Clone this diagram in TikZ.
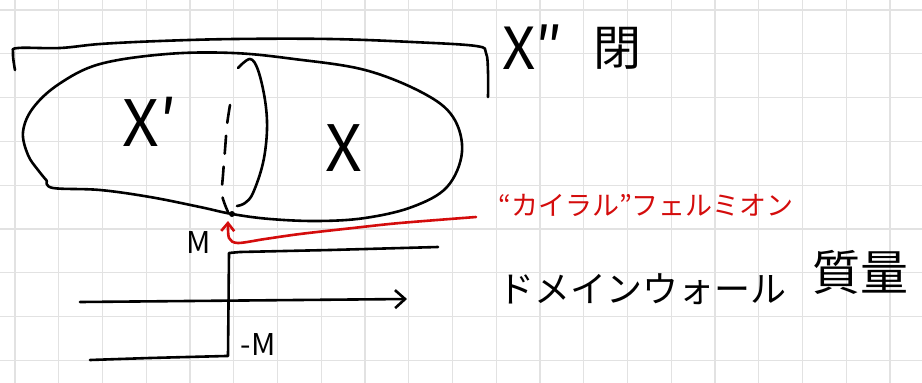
\documentclass[tikz,border=0pt]{standalone}
\usepackage{fontspec}
\newfontfamily\jp{Noto Sans CJK JP}
\usetikzlibrary{arrows.meta}
\definecolor{gridgray}{RGB}{226,226,226}
\definecolor{penred}{RGB}{212,12,12}
\begin{document}
\begin{tikzpicture}[x=1pt,y=-1pt]
    \tikzset{
        ink/.style={line width=2.6pt, line cap=round, line join=round},
        redink/.style={ink, draw=penred},
        sheet/.style={gridgray, line width=1.2pt},
        bigletter/.style={inner sep=0pt, font=\jp\fontsize{64}{64}\selectfont},
        midletter/.style={inner sep=0pt, font=\jp\fontsize{58}{58}\selectfont},
        smallletter/.style={inner sep=0pt, font=\jp\fontsize{30}{30}\selectfont},
        kanji/.style={inner sep=0pt, font=\jp\fontsize{48}{48}\selectfont},
        katakana/.style={inner sep=0pt, font=\jp\fontsize{36}{36}\selectfont},
        remark/.style={inner sep=0pt, text=penred, font=\jp\fontsize{27}{27}\selectfont}
    }
    \useasboundingbox (0,0) rectangle (922,383);
    \fill[white] (0,0) rectangle (922,383);
    \foreach \i in {0,...,20}{
        \draw[sheet] (15+43.75*\i,0) -- (15+43.75*\i,383);
    }
    \foreach \j in {0,...,8}{
        \draw[sheet] (0,10+43.8*\j) -- (922,10+43.8*\j);
    }

    % closed manifold X''
    \draw[ink] plot[smooth, tension=0.6] coordinates {(15,70) (13,53) (18,48) (60,48) (100,44) (160,41) (235,39) (330,39) (412,42) (476,46) (486,53) (488,72) (488,97)};

    % X' and X glued along the wall
    \draw[ink] plot[smooth, tension=0.6] coordinates {(47,181) (53,188) (100,190) (150,197) (200,207) (232,214) (270,219) (318,221) (365,218) (412,207) (447,187) (462,152) (453,117) (423,93) (365,70) (294,59) (233,53) (167,54) (100,64) (59,84) (33,108) (23,132) (28,155) (38,170) (47,181)};
    \draw[ink] plot[smooth, tension=0.6] coordinates {(238,68) (250,59) (258,70) (265,100) (267,130) (263,163) (253,193) (245,203) (237,206)};
    \draw[ink, dash pattern=on 18pt off 13pt] plot[smooth] coordinates {(230,105) (227,125) (225,150) (223,175) (222,195) (228,212)};
    \coordinate (wall) at (232,214);
    \fill (wall) circle (3pt);

    \draw node[bigletter] (xprime) at (150,122) {X′};
    \draw node[bigletter] (x) at (344,148) {X};
    \draw node[midletter] (xdprime) at (533,47) {X″};
    \draw node[kanji] (closed) at (617,48) {閉};

    % chiral mode on the wall
    \draw node[remark, anchor=west] (fermion) at (498,205) {“カイラル”フェルミオン};
    \coordinate (tail) at (476,217);
    \draw[redink, -{Straight Barb[length=8pt,width=13pt]}] plot[smooth, tension=0.5] coordinates {(tail) (400,223) (353,228) (300,234) (265,239) (238,243) (229,238) (228,221)};

    % mass profile
    \draw node[smallletter] (plus) at (199,243) {M};
    \draw node[smallletter] (minus) at (258,345) {-M};
    \draw[ink] plot[smooth, tension=0.3] coordinates {(90,360) (150,358) (226,356)} -- (228,356) -- (229,253) -- (240,252) -- (330,250) -- (438,247);
    \coordinate (axisl) at (80,302);
    \coordinate (axisr) at (407,299);
    \draw[ink, -{Straight Barb[length=10pt,width=18pt]}] (axisl) -- (axisr);

    \draw node[katakana, anchor=west] (dw) at (498,289) {ドメインウォール};
    \draw node[kanji] (mass) at (860,272) {質量};
\end{tikzpicture}
\end{document}
